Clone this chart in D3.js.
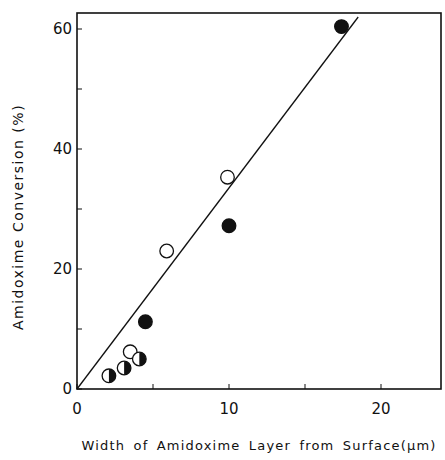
<!DOCTYPE html>
<html lang="en">
<head>
<meta charset="UTF-8">
<title>Amidoxime conversion</title>
<script src="https://d3js.org/d3.v7.min.js"></script>
<style>
  body { margin: 0; background: #fff; }
  text { font-family: "DejaVu Sans", sans-serif; fill: #111; }
</style>
</head>
<body>
<svg id="chart" width="445" height="460"></svg>
<script>
// data
const filledX = [17.4, 10.0, 4.5];
const filledY = [60.4, 27.2, 11.2];
const openX = [9.9, 5.9, 3.5];
const openY = [35.3, 23.0, 6.2];
const halfX = [4.1, 3.1, 2.1];
const halfY = [5.0, 3.5, 2.2];
const lineX = [0, 18.5];
const lineY = [0, 62];
const xTicks = [0, 10, 20];
const yTicks = [0, 20, 40, 60];
const xMinor = [5, 15];
const yMinor = [10, 30, 50];

const svg = d3.select("#chart");
const mLeft = 77, mRight = 441, mTop = 13, mBottom = 389;

const x = d3.scaleLinear().domain([0, 24]).range([mLeft, mLeft + 24 * 15.2]);
const y = d3.scaleLinear().domain([0, 60]).range([mBottom, mBottom - 360]);

// frame
svg.append("rect")
  .attr("x", mLeft).attr("y", mTop)
  .attr("width", mRight - mLeft).attr("height", mBottom - mTop)
  .attr("fill", "none").attr("stroke", "#111").attr("stroke-width", 1.6);

// ticks (inward)
svg.selectAll(".xt").data(xTicks.concat(xMinor)).join("line")
  .attr("x1", d => x(d)).attr("x2", d => x(d))
  .attr("y1", mBottom).attr("y2", mBottom - 5)
  .attr("stroke", "#111").attr("stroke-width", 1);
svg.selectAll(".yt").data(yTicks.concat(yMinor)).join("line")
  .attr("x1", mLeft).attr("x2", mLeft + 5)
  .attr("y1", d => y(d)).attr("y2", d => y(d))
  .attr("stroke", "#111").attr("stroke-width", 1);

// tick labels
svg.selectAll(".xl").data(xTicks).join("text")
  .attr("x", d => x(d)).attr("y", mBottom + 25)
  .attr("text-anchor", "middle").attr("font-size", 15)
  .text(d => d);
svg.selectAll(".yl").data(yTicks).join("text")
  .attr("x", mLeft - 5).attr("y", d => y(d) + 5)
  .attr("text-anchor", "end").attr("font-size", 15)
  .text(d => d);

// axis titles
svg.append("text")
  .attr("x", 259).attr("y", 450)
  .attr("text-anchor", "middle").attr("font-size", 13)
  .attr("letter-spacing", 1.2).attr("word-spacing", 3)
  .text("Width of Amidoxime Layer from Surface(\u03bcm)");
svg.append("text")
  .attr("transform", "translate(23,217) rotate(-90)")
  .attr("text-anchor", "middle").attr("font-size", 14)
  .attr("letter-spacing", 1.5)
  .text("Amidoxime Conversion  (%)");

// fitted line
svg.append("path")
  .attr("d", d3.line().x(d => x(d[0])).y(d => y(d[1]))(d3.zip(lineX, lineY)))
  .attr("fill", "none").attr("stroke", "#111").attr("stroke-width", 1.3);

const r = 6.8;

// open circles
svg.selectAll(".open").data(d3.zip(openX, openY)).join("circle")
  .attr("cx", d => x(d[0])).attr("cy", d => y(d[1])).attr("r", r)
  .attr("fill", "#fff").attr("stroke", "#111").attr("stroke-width", 1.3);

// filled circles
svg.selectAll(".filled").data(d3.zip(filledX, filledY)).join("circle")
  .attr("cx", d => x(d[0])).attr("cy", d => y(d[1])).attr("r", r)
  .attr("fill", "#111").attr("stroke", "#111").attr("stroke-width", 1.3);

// half-filled circles (right half black)
const half = svg.selectAll(".half").data(d3.zip(halfX, halfY)).join("g")
  .attr("transform", d => `translate(${x(d[0])},${y(d[1])})`);
half.append("circle").attr("r", r)
  .attr("fill", "#fff").attr("stroke", "#111").attr("stroke-width", 1.3);
half.append("path")
  .attr("d", `M0,${-r} A${r},${r} 0 0 1 0,${r} Z`)
  .attr("fill", "#111");
</script>
</body>
</html>
